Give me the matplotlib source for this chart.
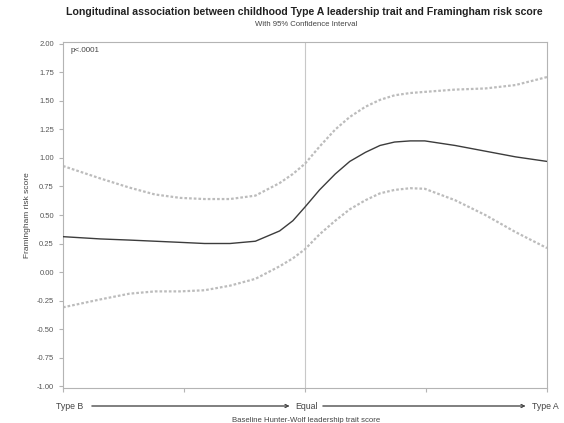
import matplotlib.pyplot as plt
import numpy as np

# Baseline leadership trait score (Type B = -2, Equal = 0, Type A = 2)
score = [-2.0, -1.69, -1.45, -1.24, -1.03, -0.83, -0.62, -0.41, -0.21, -0.10, 0.0,
         0.12, 0.25, 0.37, 0.50, 0.62, 0.74, 0.87, 0.99, 1.24, 1.49, 1.74, 2.0]
# Predicted Framingham risk score with 95% CI
fr_mean = [0.31, 0.29, 0.28, 0.27, 0.26, 0.25, 0.25, 0.27, 0.36, 0.45, 0.57,
           0.72, 0.86, 0.97, 1.05, 1.11, 1.14, 1.15, 1.15, 1.11, 1.06, 1.01, 0.97]
fr_lower = [-0.31, -0.24, -0.19, -0.17, -0.17, -0.16, -0.12, -0.06, 0.05, 0.12, 0.20,
            0.33, 0.45, 0.55, 0.63, 0.69, 0.72, 0.735, 0.73, 0.63, 0.50, 0.35, 0.21]
fr_upper = [0.93, 0.82, 0.74, 0.68, 0.65, 0.64, 0.64, 0.67, 0.78, 0.86, 0.95,
            1.10, 1.25, 1.36, 1.45, 1.51, 1.55, 1.57, 1.58, 1.60, 1.61, 1.64, 1.71]
yticks = np.arange(-1.0, 2.01, 0.25)

plt.rcParams['font.family'] = ['Liberation Sans', 'DejaVu Sans']

fig = plt.figure(figsize=(5.64, 4.23), dpi=100)
ax = fig.add_axes([63 / 564, 1 - 388 / 423, (547 - 63) / 564, (388 - 42) / 423])

frame = '#b4b4b4'
ax.axvline(0, color='#c8c8c8', lw=0.8, zorder=1)
ax.plot(score, fr_upper, color='#bcbcbc', lw=1.6, ls=(0, (1.2, 0.9)), zorder=2)
ax.plot(score, fr_lower, color='#bcbcbc', lw=1.6, ls=(0, (1.2, 0.9)), zorder=2)
ax.plot(score, fr_mean, color='#3c3c3c', lw=1.0, zorder=3)

ax.set_xlim(-2, 2)
ax.set_ylim(-1.0175, 2.0175)
ax.set_yticks(yticks)
ax.set_yticklabels([f'{v:.2f}' for v in yticks], fontsize=5.5, color='#555555')
ax.set_xticks([-2, -1, 0, 1, 2])
ax.set_xticklabels([])
ax.tick_params(axis='both', color=frame, length=3, width=0.8)
for sp in ax.spines.values():
    sp.set_color(frame)
    sp.set_linewidth(0.8)

ax.set_ylabel('Framingham risk score', fontsize=6, color='#444444', labelpad=4)

ax.text(0.015, 0.985, 'p<.0001', transform=ax.transAxes, fontsize=5.8,
        color='#444444', va='top', ha='left')

fig.text(304 / 564, 1 - 12 / 423, 'Longitudinal association between childhood Type A '
         'leadership trait and Framingham risk score', ha='center', va='center',
         fontsize=7.6, fontweight='bold', color='#222222')
fig.text(306 / 564, 1 - 24 / 423, 'With 95% Confidence Interval', ha='center',
         va='center', fontsize=5.6, color='#444444')

# Type B -> Equal -> Type A arrows under the axis
ya = 1 - 406 / 423
lab_kw = dict(fontsize=6.3, color='#444444', va='center')
fig.text(70 / 564, ya, 'Type B', ha='center', **lab_kw)
fig.text(306 / 564, ya, 'Equal', ha='center', **lab_kw)
fig.text(545 / 564, ya, 'Type A', ha='center', **lab_kw)
arrow = dict(arrowstyle='->', lw=0.6, color='#444444', mutation_scale=6)
fig.add_artist(plt.annotate('', xy=(292 / 564, ya), xytext=(89 / 564, ya),
                            xycoords='figure fraction', arrowprops=arrow))
fig.add_artist(plt.annotate('', xy=(528 / 564, ya), xytext=(320 / 564, ya),
                            xycoords='figure fraction', arrowprops=arrow))
fig.text(306 / 564, 1 - 420 / 423, 'Baseline Hunter-Wolf leadership trait score',
         ha='center', va='center', fontsize=5.6, color='#444444')

fig.savefig('out.png', dpi=100)
